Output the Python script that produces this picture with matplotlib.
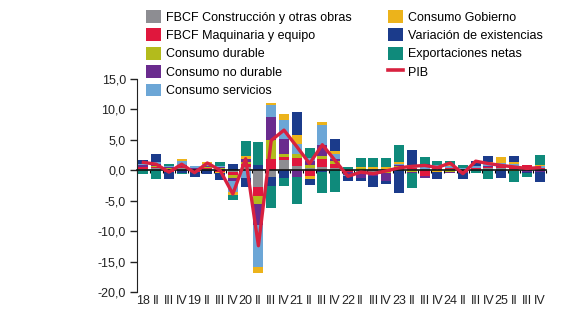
import matplotlib
matplotlib.use("Agg")
import matplotlib.pyplot as plt
from matplotlib.patches import Patch
from matplotlib.lines import Line2D
from matplotlib.transforms import blended_transform_factory
import numpy as np

plt.rcParams["font.family"] = ["Liberation Sans", "DejaVu Sans"]

# quarters 2018 I .. 2025 IV
years = ["18", "19", "20", "21", "22", "23", "24", "25"]
quarter_labels = []
for y in years:
    quarter_labels += [y, "II", "III", "IV"]

# contributions (pp), in legend order
construccion = [0.2, 0.3, 0.2, 0.3, 0.2, 0.2, 0.2, -0.3, 0.5, -2.75, -1.1, 1.7, 0.65, 0.4, 0.6, 0.4,
                0.2, -0.2, -0.3, 0.2, 0.2, 0.2, 0.2, 0.2, 0.2, 0.2, 0.2, 0.3, 0.3, 0.2, 0.2, 0.2]
maquinaria = [0.3, 0.3, -0.2, 0.2, -0.3, 0.2, -0.3, -0.4, 0.6, -1.4, 1.9, 0.5, 1.4, -1.0, 1.2, 0.6,
              -0.3, -0.1, -0.3, -0.2, 0.3, 0.2, -0.9, 0.2, 0.2, -0.3, 0.2, 0.2, 0.3, 0.3, 0.7, 0.2]
durable = [0.1, 0.1, 0.1, 0.1, 0.0, 0.1, 0.1, -0.5, 0.2, -1.35, 3.1, 0.5, 0.7, 0.5, 0.5, 0.6,
           0.0, 0.3, 0.0, -0.2, 0.2, -0.2, 0.0, 0.0, -0.2, 0.0, 0.0, 0.0, 0.0, -0.1, 0.0, 0.0]
no_durable = [0.2, 0.3, 0.2, 0.3, 0.2, 0.2, 0.2, -0.5, 0.6, -3.55, 3.8, 2.5, -1.1, 0.6, 1.8, 0.3,
              -0.4, -1.0, -0.3, -1.3, 0.2, -0.2, -0.4, 0.2, -0.3, -0.2, 0.0, 0.2, 0.2, 0.2, -0.2, -0.3]
servicios = [0.3, 0.3, 0.2, 0.6, 0.3, 0.4, 0.2, -1.8, -1.3, -6.8, 1.9, 3.1, 1.6, 0.5, 3.3, 0.7,
             -0.2, 0.0, 0.2, 0.0, 0.2, 0.3, 0.3, 0.2, 0.3, 0.2, 0.3, 0.4, 0.4, 0.4, 0.0, 0.3]
gobierno = [0.0, 0.1, -0.1, 0.35, 0.0, 0.25, -0.2, -0.5, 0.5, -1.1, 0.35, 0.9, 1.4, -0.4, 0.5, 0.5,
            0.0, 0.3, 0.3, 0.4, 0.2, 0.2, 0.2, -0.2, 0.1, 0.0, 0.0, 0.2, 1.0, 0.2, 0.0, 0.2]
existencias = [0.55, 1.2, -1.1, -0.4, -0.8, -0.55, -1.1, 1.0, -1.4, 0.8, -1.5, -1.3, 3.8, -1.0, -0.3, 2.1,
               -0.85, -0.5, -1.9, -0.5, -3.7, 2.5, 0.4, -1.2, 0.2, -0.9, 0.9, 1.05, -1.25, 1.05, -0.2, -1.6]
export_netas = [-0.55, -1.5, 0.3, -0.25, 0.0, 0.0, 0.65, -0.9, 2.4, 3.9, -3.6, -1.3, -4.5, 1.6, -3.5, -3.5,
                0.35, 1.5, 1.6, 1.4, 2.8, -2.5, 1.1, 0.8, 0.5, 0.4, -0.4, -1.4, 0.0, -1.8, -0.7, 1.55]
pib = [1.3, 1.0, -0.3, 1.0, -0.4, 1.2, 0.0, -3.9, 1.9, -12.4, 4.9, 6.6, 3.9, 1.1, 4.2, 1.6,
       -1.0, -0.3, -0.55, -0.1, 0.4, 0.65, 0.8, 0.45, 1.2, -0.55, 1.5, 1.1, 0.8, 0.55, 0.3, 0.45]

series = [
    ("FBCF Construcción y otras obras", construccion, "#8d8d92"),
    ("FBCF Maquinaria y equipo", maquinaria, "#e0173d"),
    ("Consumo durable", durable, "#b3bb1c"),
    ("Consumo no durable", no_durable, "#6a2b8e"),
    ("Consumo servicios", servicios, "#6ca6d6"),
    ("Consumo Gobierno", gobierno, "#ecb31b"),
    ("Variación de existencias", existencias, "#1b3b8b"),
    ("Exportaciones netas", export_netas, "#0f8a7b"),
]
FS = 9

fig = plt.figure(figsize=(5.8, 3.22), dpi=100)
ax = fig.add_axes([137 / 580, 1 - 292 / 322, 409 / 580, 213 / 322])

x = np.arange(len(quarter_labels))
pos_base = np.zeros(len(x))
neg_base = np.zeros(len(x))
for name, vals, col in series:
    v = np.array(vals, dtype=float)
    p = np.where(v > 0, v, 0)
    n = np.where(v < 0, v, 0)
    ax.bar(x, p, width=0.78, bottom=pos_base, color=col, linewidth=0, zorder=2)
    ax.bar(x, n, width=0.78, bottom=neg_base, color=col, linewidth=0, zorder=2)
    pos_base += p
    neg_base += n

ax.plot(x, pib, color="#d8213f", lw=2.4, zorder=4)

ax.set_xlim(-0.45, 31.5)
ax.set_ylim(-20, 15)
ticks = np.arange(-20, 16, 5)
ax.set_yticks(ticks)
ax.set_yticklabels([f"{t:.1f}".replace(".", ",") for t in ticks], fontsize=FS, color="#222222")
ax.tick_params(axis="y", direction="out", length=5, width=1, pad=3, color="#222222")

ax.spines["top"].set_visible(False)
ax.spines["right"].set_visible(False)
ax.spines["left"].set_color("#222222")
ax.spines["bottom"].set_position(("data", 0))
ax.spines["bottom"].set_color("#111111")
ax.spines["bottom"].set_linewidth(1.2)
ax.spines["bottom"].set_zorder(3)
ax.set_xticks(np.arange(-0.5, 32, 1))
ax.tick_params(axis="x", direction="out", length=2.5, width=0.8, labelbottom=False)

tr = blended_transform_factory(ax.transData, ax.transAxes)
for i, lab in enumerate(quarter_labels):
    ax.text(i, -0.012, lab, transform=tr, ha="center", va="top", fontsize=FS, color="#222222")

handles = [Patch(facecolor=c, edgecolor="none") for _, _, c in series]
labels = [n for n, _, _ in series]
handles.append(Line2D([0], [0], color="#d8213f", lw=2.6))
labels.append("PIB")
fig.legend(handles, labels, loc="upper left", bbox_to_anchor=(146 / 580, 1 - 10 / 322), ncol=2,
           frameon=False, fontsize=FS, handlelength=1.16, handleheight=1.2, handletextpad=0.42,
           labelspacing=0.38, columnspacing=2.95, borderpad=0, borderaxespad=0)

fig.savefig("out.png", dpi=100)
